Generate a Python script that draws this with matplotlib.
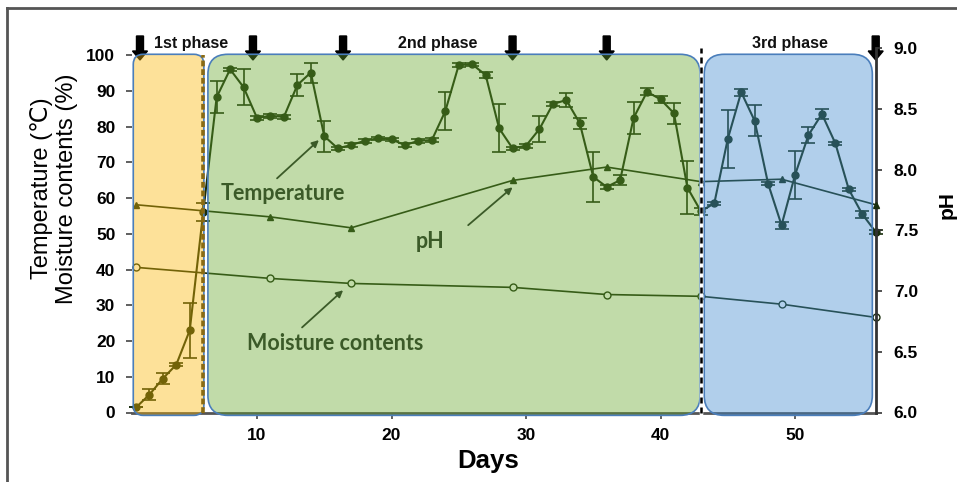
import numpy as np
import matplotlib
matplotlib.use("Agg")
import matplotlib.pyplot as plt
import matplotlib.patches as mpatches
import matplotlib.transforms as mtransforms
from matplotlib.lines import Line2D

plt.rcParams['font.family'] = ['Liberation Sans', 'DejaVu Sans']

# daily temperature (C) with error bars
days = np.arange(1, 57)
temp = [1.4, 5.0, 9.5, 13.4, 23.0, 56.0, 88.2, 96.0, 91.0, 82.4,
        83.0, 82.7, 91.6, 95.1, 77.3, 73.9, 74.8, 76.0, 76.7, 76.4,
        74.8, 76.0, 76.2, 84.3, 97.2, 97.4, 94.4, 79.5, 73.9, 74.6,
        79.3, 86.3, 87.4, 80.9, 65.9, 63.1, 65.0, 82.4, 89.7, 87.6,
        83.7, 62.9, 56.3, 58.5, 76.5, 89.6, 81.6, 64.0, 52.4, 66.4,
        77.6, 83.5, 75.3, 62.4, 55.5, 50.5]
temp_err = [0.0, 1.5, 1.5, 0.5, 7.7, 2.5, 4.5, 0.5, 5.0, 0.5,
            0.5, 0.5, 3.2, 2.8, 4.3, 0.5, 0.5, 0.5, 0.5, 0.5,
            0.5, 0.5, 0.5, 5.4, 0.5, 0.5, 0.8, 6.7, 0.5, 0.5,
            3.6, 0.5, 2.0, 1.5, 6.9, 0.5, 1.5, 4.5, 1.0, 1.0,
            3.0, 7.5, 1.0, 0.5, 8.2, 1.0, 4.3, 0.5, 1.0, 6.8,
            2.2, 1.5, 0.5, 0.5, 1.0, 0.5]

# pH and moisture sampling
sample_days = [1, 11, 17, 29, 36, 43, 49, 56]
ph = [7.71, 7.61, 7.52, 7.91, 8.02, 7.90, 7.92, 7.71]
moisture = [40.6, 37.5, 36.1, 35.0, 33.0, 32.5, 30.3, 26.6]

arrow_days = [1.3, 9.7, 16.4, 29, 36, 56]
phase_names = ['1st phase', '2nd phase', '3rd phase']
phase_label_x = [5.1, 23.4, 49.6]
phase_bounds = [(0.8, 6.05), (6.35, 42.95), (43.25, 55.75)]
phase_colors = [(250/255, 180/255, 0, 0.4), (100/255, 165/255, 42/255, 0.4),
                (62/255, 137/255, 205/255, 0.4)]
phase_radius = [10, 20, 20]

left_ticks = list(range(0, 101, 10))
right_ticks = [6.0, 6.5, 7.0, 7.5, 8.0, 8.5, 9.0]
x_ticks = [10, 20, 30, 40, 50]

dark = '#192D0C'
txt_green = '#3B5A28'

fig = plt.figure(figsize=(9.57, 4.82), dpi=100)
ax = fig.add_axes([132/957, 1 - 412.5/482, 743.7/957, 364.5/482])
ax2 = ax.twinx()

ax.set_xlim(0.706, 56.0)
ax.set_ylim(0, 101.96)
ax2.set_ylim(6, 9)

# data
ax.errorbar(days, temp, yerr=temp_err, fmt='-o', color=dark, ms=5, lw=1.5,
            elinewidth=1.2, capsize=5, capthick=1.2, zorder=3, clip_on=False)
ax.plot(sample_days, moisture, '-o', color=dark, mfc='white', ms=5, lw=1.2,
        zorder=3, clip_on=False)
ax2.plot(sample_days, ph, '-^', color=dark, ms=5, lw=1.2, zorder=3, clip_on=False)

# sampling arrows on top
for d in arrow_days:
    px = ax.transData.transform((d, 0))[0]
    ar = mpatches.FancyArrow(px, 482 - 36, 0, -24, width=7, head_width=15,
                             head_length=9, length_includes_head=True,
                             transform=mtransforms.IdentityTransform(),
                             color='black', zorder=1, clip_on=False)
    ax2.add_patch(ar)

# phase boxes (semi transparent overlays)
for (x0, x1), c, r in zip(phase_bounds, phase_colors, phase_radius):
    p0 = ax.transData.transform((x0, -0.8))
    p1 = ax.transData.transform((x1, 100.2))
    box = mpatches.FancyBboxPatch((p0[0], p0[1]), p1[0] - p0[0], p1[1] - p0[1],
                                  boxstyle=f"round,pad=0,rounding_size={r}",
                                  transform=mtransforms.IdentityTransform(),
                                  fc=c, ec='#4A7EBB', lw=1.2, zorder=5, clip_on=False)
    ax2.add_patch(box)

# phase boundaries
ax2.plot([5.98, 5.98], [0, 100], ls=(0, (1.6, 0.8)), color='#8A6A12', lw=2.6,
         zorder=6, transform=ax.transData)
ax2.plot([43, 43], [0, 1], color='white', lw=2.5, zorder=6,
         transform=ax.get_xaxis_transform(), clip_on=False)
ax2.plot([43, 43], [0, 1], color='black', lw=1.8, ls=(0, (2.4, 1.6)), zorder=6,
         transform=ax.get_xaxis_transform(), clip_on=False)

for name, x in zip(phase_names, phase_label_x):
    ax2.text(x, 1.0137, name, transform=ax.get_xaxis_transform(), ha='center',
             va='center', fontsize=11.5, fontweight='bold', color='#111111')

# annotations
ann_font = ['Lato', 'DejaVu Sans']
for label, tx, ty, tip, tail in [('Temperature', 11.93, 61.3, (14.6, 76.2), (11.49, 65.5)),
                                 ('pH', 22.9, 47.9, (29.0, 63.0), (25.7, 52.4)),
                                 ('Moisture contents', 15.8, 19.3, (16.4, 34.2), (13.35, 23.8))]:
    ax2.text(tx, ty, label, transform=ax.transData, ha='center', va='center',
             fontsize=15.5, fontweight='bold', color=txt_green, family=ann_font, zorder=7)
    ax2.annotate('', xy=tip, xytext=tail, xycoords=ax.transData, textcoords=ax.transData,
                 arrowprops=dict(arrowstyle='-|>', color=txt_green, lw=1.3,
                                 mutation_scale=10, shrinkA=0, shrinkB=0), zorder=7)

# axes styling
for s in ['top', 'left', 'right']:
    ax.spines[s].set_visible(False)
for s in ['top', 'left', 'bottom']:
    ax2.spines[s].set_visible(False)
ax.spines['bottom'].set_color('#555555')
ax.spines['bottom'].set_linewidth(2)
ax2.spines['right'].set_color('#333333')
ax2.spines['right'].set_linewidth(2)

ax.set_xticks(x_ticks, [str(t) for t in x_ticks], fontweight='bold', fontsize=12.5)
ax.set_yticks(left_ticks, [str(t) for t in left_ticks], fontweight='bold', fontsize=12.5)
ax2.set_yticks(right_ticks, [f'{t:.1f}' for t in right_ticks], fontweight='bold', fontsize=12.5)
ax.tick_params(axis='y', direction='out', length=4, width=1.2, color='#444444', pad=8)
ax.tick_params(axis='x', direction='out', length=4, width=1.2, color='#444444', pad=7)
ax2.tick_params(axis='y', direction='out', length=4, width=1.2, color='#333333', pad=9)

ax.set_xlabel('Days', fontsize=18.5, fontweight='bold')
ax.xaxis.set_label_coords(0.479, -0.100)
ax.set_ylabel('Temperature (℃)\nMoisture contents (%)', fontsize=17, linespacing=1.2)
ax.yaxis.set_label_coords(-0.0726, 0.615)
ax2.set_ylabel('pH', fontsize=15, fontweight='bold')
ax2.yaxis.set_label_coords(1.0838, 0.57)

# outer frame of the pasted figure
fig.add_artist(Line2D([7/957, 7/957], [0, 1 - 8/482], color='#555555', lw=2))
fig.add_artist(Line2D([7/957, 1], [1 - 8/482, 1 - 8/482], color='#555555', lw=2))

fig.savefig('out.png', dpi=100)
